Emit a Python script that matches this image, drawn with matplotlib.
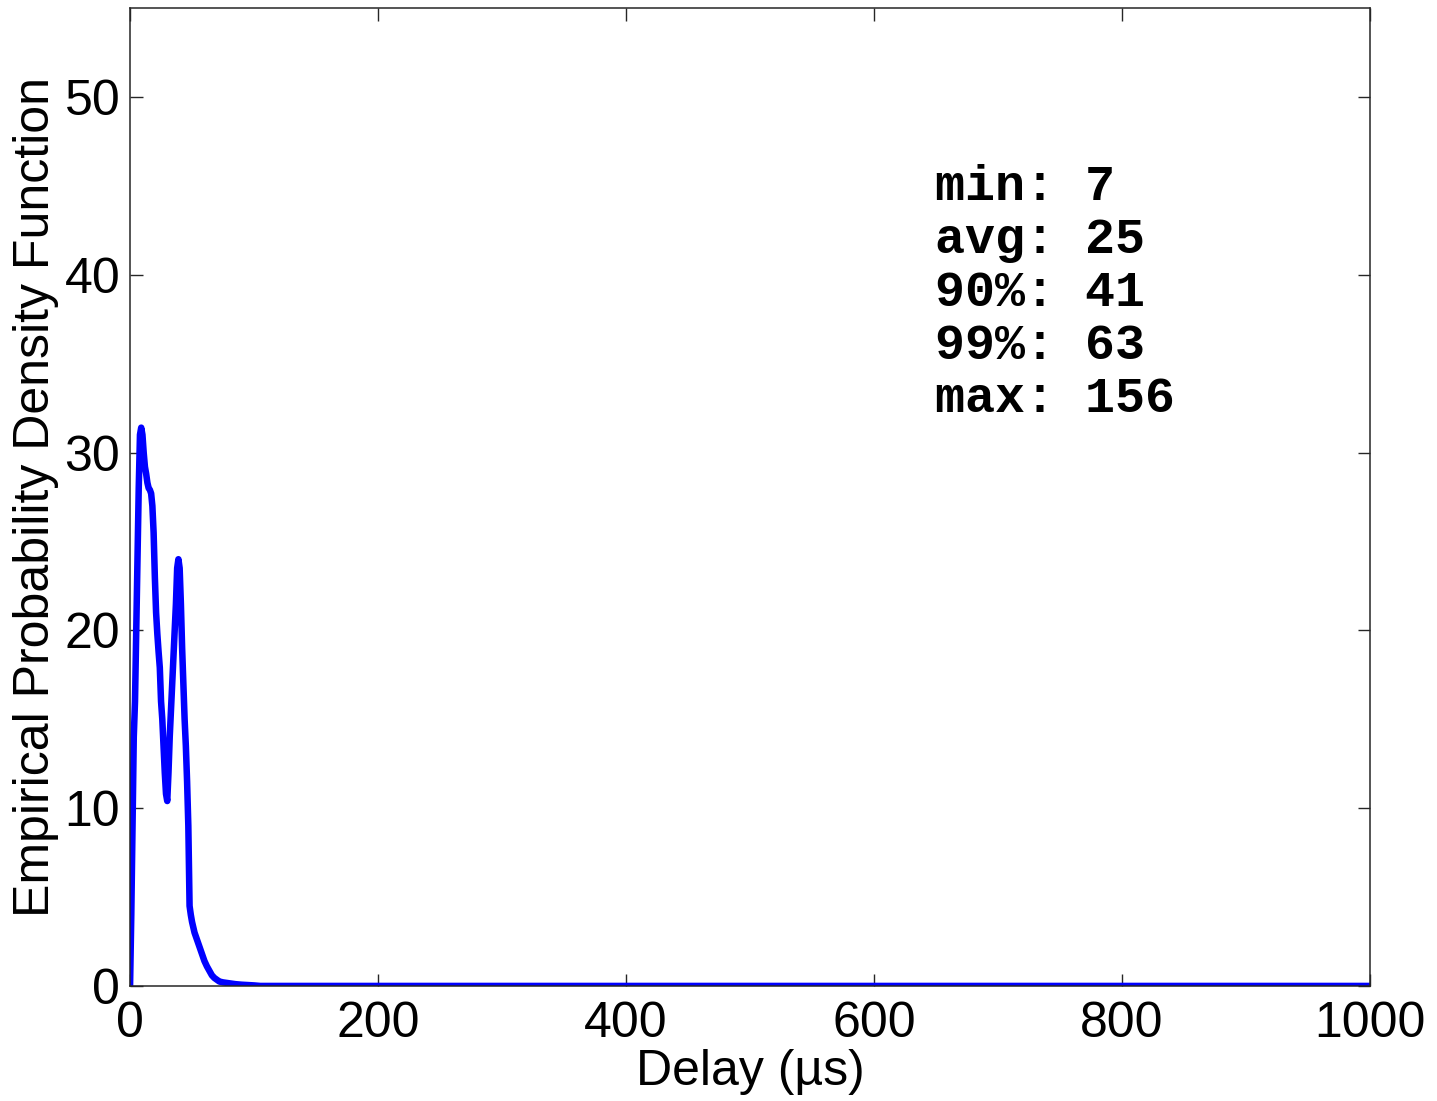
import matplotlib
matplotlib.use("Agg")
import matplotlib.pyplot as plt

# Empirical PDF of delay (µs) and density values
delay_us = [0, 1, 2, 3, 4, 5, 6, 7, 8, 9, 10, 11, 12, 13, 14, 15, 16, 17, 18, 19,
            20, 21, 22, 23, 24, 25, 26, 27, 28, 29, 30, 31, 32, 33, 34, 35, 36, 37,
            38, 39, 40, 41, 42, 43, 44, 45, 46, 47, 48, 49, 50, 52, 54, 56, 58, 60,
            62, 64, 66, 68, 70, 72, 75, 80, 85, 90, 95, 100, 105, 1000]
density = [0, 4, 9, 14, 16, 20, 24, 28, 31, 31.4, 31, 30, 29.2, 28.8, 28.3, 28,
           27.9, 27.7, 27, 25.5, 23, 21, 19.8, 18.8, 17.9, 16, 15, 13.5, 12, 10.8,
           10.4, 12, 14, 15.5, 17, 18.5, 20, 21.5, 23.5, 24, 23.5, 21.5, 19, 17, 15,
           13.5, 11.5, 9, 4.5, 4, 3.6, 3, 2.6, 2.2, 1.8, 1.4, 1.1, 0.85, 0.6, 0.45,
           0.35, 0.25, 0.2, 0.15, 0.1, 0.07, 0.05, 0.03, 0, 0]

stat_names = ["min", "avg", "90%", "99%", "max"]
stat_values = [7, 25, 41, 63, 156]

x_ticks = [0, 200, 400, 600, 800, 1000]
y_ticks = [0, 10, 20, 30, 40, 50]

plt.rcParams["font.family"] = ["Liberation Sans", "DejaVu Sans"]

fig = plt.figure(figsize=(14.37, 11.01), dpi=100)
ax = fig.add_axes([0.0905, 0.1045, 0.8629, 0.8882])

ax.plot(delay_us, density, color="#0000ff", linewidth=4.7, solid_joinstyle="round")

ax.set_xlim(0, 1000)
ax.set_ylim(0, 55)
ax.set_xticks(x_ticks)
ax.set_yticks(y_ticks)
ax.tick_params(direction="in", length=9, width=1, top=True, right=True,
               labelsize=36, color="#262626")
ax.tick_params(axis="x", pad=11)
ax.tick_params(axis="y", pad=7)
for s in ax.spines.values():
    s.set_linewidth(1.1)
    s.set_color("#262626")

ax.set_xlabel("Delay (µs)", fontsize=36, labelpad=1)
ax.set_ylabel("Empirical Probability Density Function", fontsize=36, labelpad=4)

for i, (name, val) in enumerate(zip(stat_names, stat_values)):
    ax.text(0.6495, 0.8037 - i * 0.0542, f"{name}: {val}", transform=ax.transAxes,
            family=["Liberation Mono", "DejaVu Sans Mono"], fontweight="bold",
            fontsize=36, va="baseline", ha="left")

fig.savefig("out.png", dpi=100)
